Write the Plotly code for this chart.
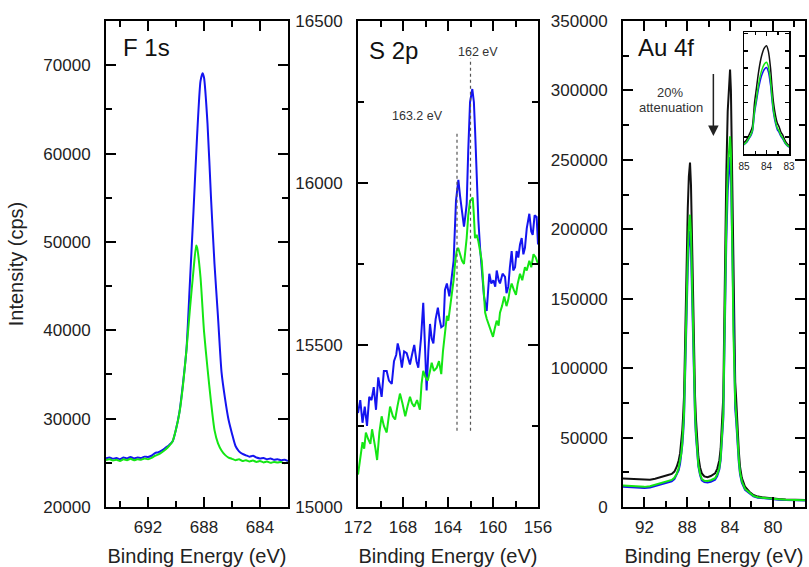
import plotly.graph_objects as go

# ---------------- F 1s ----------------
f1s_blue_be = [695.0, 694.75, 694.5, 694.25, 694.0, 693.75, 693.5, 693.25, 693.0, 692.75,
               692.5, 692.25, 692.0, 691.75, 691.5, 691.25, 691.0, 690.75, 690.5, 690.25,
               690.0, 689.75, 689.5, 689.25, 689.0, 688.75, 688.5, 688.25, 688.1, 688.0,
               687.75, 687.5, 687.25, 687.0, 686.75, 686.5, 686.25, 686.0, 685.75, 685.5,
               685.25, 685.0, 684.75, 684.5, 684.25, 684.0, 683.75, 683.5, 683.25, 683.0,
               682.75, 682.5, 682.25, 682.0]
f1s_blue_cps = [25500, 25600, 25450, 25550, 25400, 25600, 25500, 25650, 25500, 25600,
                25550, 25700, 25650, 25800, 26100, 26200, 26400, 26700, 27000, 27400,
                28800, 30800, 34000, 37900, 45600, 53500, 61800, 68200, 69100, 68600,
                63400, 55000, 47500, 41500, 35300, 32300, 29900, 28300, 26900, 26300,
                26000, 25850, 25700, 25800, 25600, 25500, 25550, 25400, 25500, 25350,
                25400, 25300, 25350, 25200]

f1s_green_be = [695.0, 694.75, 694.5, 694.25, 694.0, 693.75, 693.5, 693.25, 693.0, 692.75,
                692.5, 692.25, 692.0, 691.75, 691.5, 691.25, 691.0, 690.75, 690.5, 690.25,
                690.0, 689.75, 689.5, 689.25, 689.0, 688.75, 688.56, 688.5, 688.25, 688.0,
                687.75, 687.5, 687.25, 687.0, 686.75, 686.5, 686.25, 686.0, 685.75, 685.5,
                685.25, 685.0, 684.75, 684.5, 684.25, 684.0, 683.75, 683.5, 683.25, 683.0,
                682.75, 682.5, 682.25, 682.0]
f1s_green_cps = [25300, 25400, 25250, 25350, 25200, 25400, 25300, 25450, 25300, 25400,
                 25350, 25500, 25400, 25550, 25800, 25950, 26200, 26500, 26900, 27400,
                 28800, 30700, 33800, 37800, 42500, 46800, 49600, 49400, 46000, 39900,
                 35700, 31900, 28700, 27200, 26400, 25900, 25600, 25450, 25300, 25400,
                 25200, 25300, 25150, 25250, 25100, 25200, 25050, 25150, 25000, 25100,
                 25050, 25100, 24950, 25050]

# ---------------- S 2p ----------------
s2p_blue_be = [172.0, 171.8, 171.6, 171.4, 171.2, 171.0, 170.8, 170.6, 170.4, 170.2,
               170.0, 169.9, 169.7, 169.45, 169.25, 169.0, 168.8, 168.6, 168.47, 168.3,
               168.1, 167.9, 167.67, 167.5, 167.38, 167.2, 167.0, 166.8, 166.64, 166.4,
               166.2, 166.05, 165.9, 165.75, 165.6, 165.45, 165.3, 165.1, 164.9, 164.75,
               164.6, 164.4, 164.27, 164.1, 163.88, 163.7, 163.5, 163.29, 163.08, 162.93,
               162.78, 162.58, 162.45, 162.34, 162.2, 162.04, 161.84, 161.7, 161.6, 161.45,
               161.3, 161.15, 161.0, 160.8, 160.56, 160.45, 160.33, 160.15, 159.97, 159.8,
               159.67, 159.5, 159.38, 159.15, 158.93, 158.8, 158.64, 158.5, 158.34, 158.2,
               158.04, 157.9, 157.75, 157.6, 157.45, 157.3, 157.16, 157.0, 156.77, 156.6,
               156.47, 156.3, 156.12, 156.0]
s2p_blue_cps = [15290, 15330, 15260, 15310, 15250, 15340, 15330, 15370, 15300, 15400,
                15360, 15340, 15420, 15420, 15390, 15380, 15450, 15470, 15505, 15480,
                15430, 15480, 15475, 15450, 15440, 15470, 15500, 15450, 15430, 15520,
                15630, 15500, 15360, 15480, 15565, 15520, 15505, 15580, 15615, 15580,
                15555, 15560, 15670, 15690, 15650, 15700, 15760, 15945, 16010, 15960,
                15925, 15865, 15900, 15935, 16100, 16250, 16290, 16250, 16170, 16020,
                15885, 15800, 15730, 15650, 15605, 15680, 15720, 15690, 15700, 15680,
                15730, 15700, 15690, 15720, 15710, 15660, 15680, 15740, 15790, 15730,
                15740, 15790, 15770, 15810, 15830, 15780, 15800, 15860, 15905, 15850,
                15840, 15900, 15895, 15810]

s2p_green_be = [172.0, 171.8, 171.6, 171.45, 171.3, 171.1, 170.9, 170.75, 170.6, 170.45,
                170.3, 170.1, 169.9, 169.7, 169.45, 169.3, 169.15, 168.9, 168.7, 168.5,
                168.27, 168.05, 167.8, 167.6, 167.38, 167.2, 167.0, 166.75, 166.5, 166.35,
                166.2, 166.0, 165.8, 165.6, 165.45, 165.25, 165.0, 164.8, 164.6, 164.45,
                164.3, 164.1, 163.97, 163.75, 163.5, 163.35, 163.23, 163.1, 162.93, 162.75,
                162.58, 162.45, 162.34, 162.2, 162.04, 161.9, 161.8, 161.7, 161.6, 161.45,
                161.3, 161.15, 161.0, 160.85, 160.7, 160.55, 160.4, 160.2, 160.0, 159.85,
                159.67, 159.5, 159.38, 159.2, 159.0, 158.8, 158.64, 158.5, 158.34, 158.15,
                157.96, 157.8, 157.6, 157.4, 157.16, 157.0, 156.77, 156.6, 156.4, 156.2,
                156.0]
s2p_green_cps = [15100, 15150, 15200, 15180, 15230, 15210, 15195, 15240, 15215, 15180,
                 15145, 15230, 15280, 15250, 15230, 15270, 15310, 15280, 15270, 15310,
                 15350, 15320, 15280, 15310, 15340, 15320, 15310, 15330, 15300, 15380,
                 15420, 15400, 15390, 15420, 15445, 15420, 15430, 15450, 15410, 15480,
                 15525, 15590, 15575, 15630, 15700, 15760, 15790, 15800, 15780, 15760,
                 15750, 15790, 15830, 15900, 15945, 15950, 15955, 15900, 15830, 15840,
                 15820, 15790, 15760, 15680, 15600, 15580, 15565, 15540, 15525, 15550,
                 15575, 15560, 15600, 15620, 15650, 15620, 15640, 15670, 15690, 15670,
                 15655, 15690, 15720, 15700, 15740, 15730, 15760, 15740, 15780, 15770,
                 15750]

s2p_ref_be = [163.2, 162.0]
s2p_ref_low = [15235, 15235]
s2p_ref_high = [16160, 16385]
s2p_ref_text = ["163.2 eV", "162 eV"]

# ---------------- Au 4f ----------------
au_be = [94.0, 93.35, 92.8, 92.41, 92.0, 91.48, 91.0, 90.85, 90.5, 90.23,
         89.8, 89.45, 89.2, 88.98, 88.8, 88.67, 88.55, 88.46, 88.38, 88.3,
         88.22, 88.14, 88.05, 87.95, 87.85, 87.74, 87.65, 87.57, 87.48, 87.38,
         87.27, 87.19, 87.11, 87.04, 86.96, 86.8, 86.64, 86.4, 86.1, 85.8,
         85.6, 85.4, 85.2, 85.0, 84.88, 84.78, 84.7, 84.63, 84.58, 84.53,
         84.45, 84.35, 84.22, 84.1, 84.0, 83.92, 83.82, 83.76, 83.69, 83.6,
         83.52, 83.44, 83.36, 83.28, 83.18, 83.07, 82.9, 82.6, 82.2, 81.82,
         81.4, 81.0, 80.26, 79.5, 78.8, 77.77, 77.0]
au_black_cps = [20500, 20200, 19800, 19500, 19400, 19600, 20300, 20700, 21500, 22400,
                23000, 23800, 25500, 29000, 33500, 38600, 46000, 55400, 66000, 79500,
                110000, 150000, 185000, 215000, 238000, 248000, 232000, 195000, 150000, 112000,
                79500, 64000, 55400, 44000, 36200, 28500, 24200, 22000, 21400, 22300,
                23200, 24200, 27500, 33700, 42000, 55400, 66000, 79500, 110000, 150000,
                190000, 240000, 285000, 308000, 315000, 300000, 250000, 200000, 150000, 112000,
                90000, 79500, 64000, 55400, 40000, 29000, 21000, 14600, 11000, 8660,
                7500, 7000, 6250, 5700, 5400, 5050, 5000]
au_green_cps = [15500, 15200, 14800, 14400, 14500, 15000, 16000, 16500, 17200, 18000,
                18800, 19500, 21000, 24000, 28000, 32500, 38800, 46700, 55800, 67200,
                93100, 127100, 156900, 182400, 202000, 210500, 196900, 165400, 127100, 94900,
                67200, 54000, 47000, 37000, 30400, 23800, 20200, 18900, 18700, 19300,
                20000, 20800, 23600, 28300, 35400, 46700, 55800, 67200, 93000, 127000,
                161000, 203600, 241900, 261000, 267000, 255000, 213000, 170000, 127000, 95000,
                76000, 67200, 54000, 47000, 34000, 25000, 18500, 13000, 10200, 8000,
                7000, 6600, 6000, 5500, 5200, 4900, 4850]
au_blue_cps = [14500, 14200, 13800, 13500, 13600, 14100, 15100, 15500, 16200, 17000,
               17800, 18500, 20000, 23000, 26500, 31000, 37000, 44500, 53000, 63800,
               88200, 120200, 148200, 172200, 190600, 198600, 185800, 156200, 120200, 89800,
               63800, 51400, 44500, 35400, 29200, 22800, 19200, 17900, 17600, 18200,
               18900, 19700, 22300, 27200, 33800, 44500, 53000, 63800, 88000, 120000,
               152000, 192000, 228000, 246000, 252000, 240000, 200000, 160000, 120000, 89000,
               71000, 63000, 51000, 44000, 32000, 23500, 17500, 12300, 9700, 7700,
               6700, 6300, 5800, 5300, 5000, 4700, 4650]

au_arrow_be = 85.56
au_arrow_from = 313000
au_arrow_to = 267200

BLUE = "#1414F0"
GREEN = "#14E614"
BLACK = "#111111"
FONT = "Arial, 'Liberation Sans', sans-serif"

W, H = 809, 567


def xdom(a, b):
    return [a / W, b / W]


def ydom(top, bottom):
    return [1 - bottom / H, 1 - top / H]


fig = go.Figure()

# F 1s
fig.add_trace(go.Scatter(x=f1s_blue_be, y=f1s_blue_cps, mode="lines", line=dict(color=BLUE, width=2, shape="spline", smoothing=0.6), xaxis="x", yaxis="y"))
fig.add_trace(go.Scatter(x=f1s_green_be, y=f1s_green_cps, mode="lines", line=dict(color=GREEN, width=2, shape="spline", smoothing=0.6), xaxis="x", yaxis="y"))
# S 2p
fig.add_trace(go.Scatter(x=s2p_blue_be, y=s2p_blue_cps, mode="lines", line=dict(color=BLUE, width=2), xaxis="x2", yaxis="y2"))
fig.add_trace(go.Scatter(x=s2p_green_be, y=s2p_green_cps, mode="lines", line=dict(color=GREEN, width=2), xaxis="x2", yaxis="y2"))
# Au 4f
fig.add_trace(go.Scatter(x=au_be, y=au_black_cps, mode="lines", line=dict(color=BLACK, width=2), xaxis="x3", yaxis="y3"))
fig.add_trace(go.Scatter(x=au_be, y=au_blue_cps, mode="lines", line=dict(color=BLUE, width=2), xaxis="x3", yaxis="y3"))
fig.add_trace(go.Scatter(x=au_be, y=au_green_cps, mode="lines", line=dict(color=GREEN, width=2), xaxis="x3", yaxis="y3"))
# inset
fig.add_trace(go.Scatter(x=au_be, y=au_black_cps, mode="lines", line=dict(color=BLACK, width=1.5, shape="spline", smoothing=0.8), xaxis="x4", yaxis="y4"))
fig.add_trace(go.Scatter(x=au_be, y=au_blue_cps, mode="lines", line=dict(color=BLUE, width=1.5, shape="spline", smoothing=0.8), xaxis="x4", yaxis="y4"))
fig.add_trace(go.Scatter(x=au_be, y=au_green_cps, mode="lines", line=dict(color=GREEN, width=1.5, shape="spline", smoothing=0.8), xaxis="x4", yaxis="y4"))


def axis(**kw):
    base = dict(showline=True, linecolor="black", linewidth=2, mirror="allticks",
                ticks="inside", ticklen=10, tickwidth=2, tickcolor="black",
                showgrid=False, zeroline=False, automargin=False,
                tickfont=dict(size=17, color="#222", family=FONT),
                ticklabelstandoff=4)
    base.update(kw)
    return base


minor_x = dict(ticks="inside", ticklen=6, tickwidth=2, tickcolor="black", dtick=2, tick0=0, showgrid=False)
xtitle = dict(text="Binding Energy (eV)", font=dict(size=20, color="#222", family=FONT), standoff=13)

ydom_main = ydom(21, 507)

layout = dict(
    template="none",
    width=W, height=H, margin=dict(l=0, r=0, t=0, b=0, pad=0),
    paper_bgcolor="white", plot_bgcolor="white", showlegend=False,
    font=dict(family=FONT, color="#222"),
    xaxis=axis(domain=xdom(106, 288), range=[695, 682], dtick=4, tick0=0, minor=minor_x,
               title=xtitle, anchor="y"),
    yaxis=axis(domain=ydom_main, range=[20000, 75000], dtick=10000, tick0=0, tickformat="d",
               minor=dict(ticks="inside", ticklen=6, tickwidth=2, tickcolor="black", dtick=5000, showgrid=False),
               title=dict(text="Intensity (cps)", font=dict(size=20, color="#222", family=FONT), standoff=14),
               anchor="x", ticklabelstandoff=10),
    xaxis2=axis(domain=xdom(358, 538), range=[172, 156], dtick=4, tick0=0, minor=minor_x,
                title=xtitle, anchor="y2"),
    yaxis2=axis(domain=ydom_main, range=[15000, 16500], dtick=500, tick0=0, tickformat="d",
                minor=dict(ticks="inside", ticklen=6, tickwidth=2, tickcolor="black", dtick=250, showgrid=False),
                anchor="x2", ticklabelstandoff=10),
    xaxis3=axis(domain=xdom(623, 805), range=[94, 77], dtick=4, tick0=0, minor=minor_x,
                title=xtitle, anchor="y3"),
    yaxis3=axis(domain=ydom_main, range=[0, 350000], dtick=50000, tick0=0, tickformat="d",
                minor=dict(ticks="inside", ticklen=6, tickwidth=2, tickcolor="black", dtick=25000, showgrid=False),
                anchor="x3", ticklabelstandoff=10),
    xaxis4=axis(domain=xdom(744, 789), range=[85, 83], dtick=1, tick0=0, linewidth=1.5,
                ticklen=4, tickwidth=1.5, tickfont=dict(size=10, color="#222", family=FONT),
                ticklabelstandoff=2,
                minor=dict(ticks="inside", ticklen=3, tickwidth=1.5, tickcolor="black", dtick=0.5, showgrid=False),
                anchor="y4"),
    yaxis4=axis(domain=ydom(32, 154), range=[0, 355000], dtick=50000, tick0=0, linewidth=1.5,
                ticklen=4, tickwidth=1.5, showticklabels=False, anchor="x4"),
)
fig.update_layout(**layout)

# S 2p reference lines
for be, lo, hi in zip(s2p_ref_be, s2p_ref_low, s2p_ref_high):
    fig.add_shape(type="line", xref="x2", yref="y2", x0=be, x1=be, y0=lo, y1=hi,
                  line=dict(color="#555", width=1.2, dash="dot"))

annotations = [
    dict(text="F 1s", xref="x domain", yref="y domain", x=0.085, y=0.945, xanchor="left", yanchor="middle",
         showarrow=False, font=dict(size=24, color="#111", family=FONT)),
    dict(text="S 2p", xref="x2 domain", yref="y2 domain", x=0.05, y=0.94, xanchor="left", yanchor="middle",
         showarrow=False, font=dict(size=24, color="#111", family=FONT)),
    dict(text="Au 4f", xref="x3 domain", yref="y3 domain", x=0.072, y=0.945, xanchor="left", yanchor="middle",
         showarrow=False, font=dict(size=24, color="#111", family=FONT)),
    dict(text=s2p_ref_text[1], xref="x2 domain", yref="y2 domain", x=0.664, y=0.936, xanchor="center", yanchor="middle",
         showarrow=False, font=dict(size=12.5, color="#333", family=FONT)),
    dict(text=s2p_ref_text[0], xref="x2 domain", yref="y2 domain", x=0.328, y=0.8045, xanchor="center", yanchor="middle",
         showarrow=False, font=dict(size=12.5, color="#333", family=FONT)),
    dict(text="20%", xref="x3 domain", yref="y3 domain", x=0.2555, y=0.852, xanchor="center", yanchor="middle",
         showarrow=False, font=dict(size=13, color="#333", family=FONT)),
    dict(text="attenuation", xref="x3 domain", yref="y3 domain", x=0.265, y=0.821, xanchor="center", yanchor="middle",
         showarrow=False, font=dict(size=13, color="#333", family=FONT)),
    dict(x=au_arrow_be, y=au_arrow_to, ax=au_arrow_be, ay=au_arrow_from, xref="x3", yref="y3",
         axref="x3", ayref="y3", showarrow=True, arrowhead=2, arrowsize=1.4, arrowwidth=1.5,
         arrowcolor="#222", text=""),
]
fig.update_layout(annotations=annotations)

fig.write_html("out.html", config={"displayModeBar": False, "staticPlot": True},
               post_script="document.body.style.margin='0';document.body.style.padding='0';")
